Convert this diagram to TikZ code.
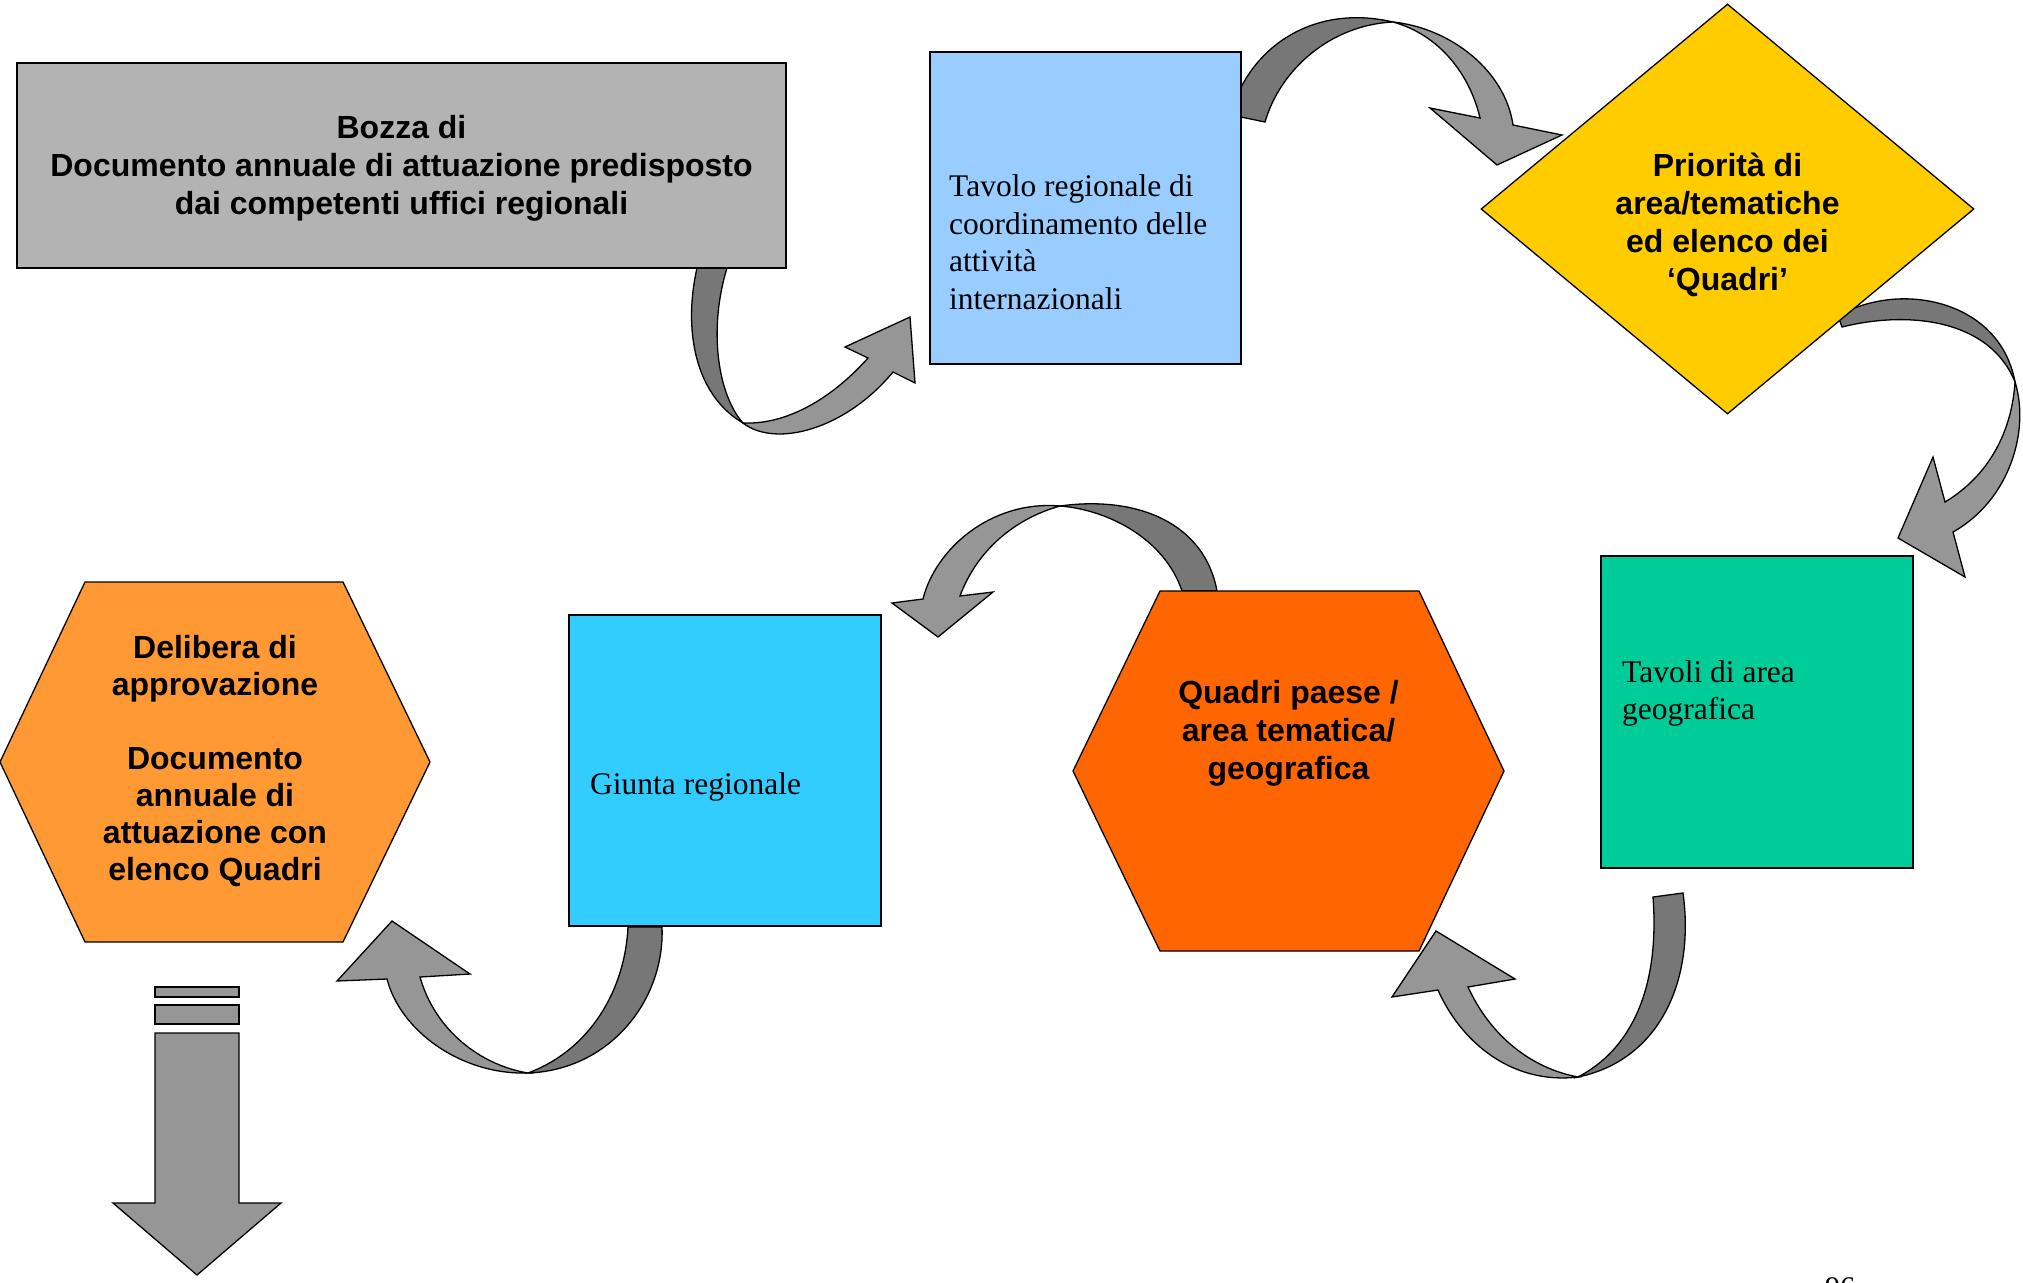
\documentclass[tikz,border=0pt]{standalone}
\usepackage{fontspec}
\setmainfont{Liberation Serif}
\setsansfont{Liberation Sans}
\usetikzlibrary{shapes.geometric}

\definecolor{bozzagray}{HTML}{B3B3B3}
\definecolor{tavoloblue}{HTML}{99CCFF}
\definecolor{prioyellow}{HTML}{FFCC00}
\definecolor{tavoligreen}{HTML}{00CC99}
\definecolor{quadriorange}{HTML}{FF6600}
\definecolor{giuntacyan}{HTML}{33CCFF}
\definecolor{deliberaorange}{HTML}{FF9933}
\definecolor{arrowdark}{HTML}{777777}
\definecolor{arrowlight}{HTML}{969696}

\tikzset{
    box/.style={draw=black, line width=1.3pt, inner sep=0pt},
    boldtext/.style={font=\sffamily\bfseries\fontsize{32}{38}\selectfont, align=center, inner sep=0pt},
    plaintext/.style={font=\rmfamily\fontsize{31.5}{37.5}\selectfont, align=left, inner sep=0pt, anchor=west},
    ribbonback/.style={draw=black, line width=1.3pt, fill=arrowdark},
    ribbonfront/.style={draw=black, line width=1.3pt, fill=arrowlight},
}

\begin{document}
\begin{tikzpicture}[x=1pt, y=-1pt]
        \useasboundingbox (0,0) rectangle (2023,1282);

        % curved arrows first, the boxes cover their tails
        \filldraw[ribbonback] (697,268) .. controls (683,330) and (695,395) .. (743,423)
            .. controls (718,395) and (708,330) .. (727,268) -- cycle;
        \filldraw[ribbonfront] (743,423) .. controls (775,448) and (845,430) .. (893,372)
            -- (915,383) -- (910,317) -- (845,347) -- (868,358)
            .. controls (835,395) and (790,425) .. (743,423) -- cycle;

        \filldraw[ribbonback] (1236,116) -- (1265,122) .. controls (1280,70) and (1330,25) .. (1393,22)
            .. controls (1320,5) and (1260,40) .. (1236,98) -- cycle;
        \filldraw[ribbonfront] (1393,22) .. controls (1450,28) and (1505,70) .. (1513,125)
            -- (1562,135) -- (1497,165) -- (1430,108) -- (1480,118)
            .. controls (1470,75) and (1440,35) .. (1393,22) -- cycle;

        \filldraw[ribbonback] (1842,327) -- (1838,316) .. controls (1900,280) and (2000,300) .. (2015,382)
            .. controls (1990,320) and (1910,310) .. (1842,327) -- cycle;
        \filldraw[ribbonfront] (2015,382) .. controls (2030,430) and (2010,500) .. (1953,532)
            -- (1965,577) -- (1898,538) -- (1933,457) -- (1945,502)
            .. controls (1990,475) and (2012,430) .. (2015,382) -- cycle;

        \filldraw[ribbonback] (1653,897) -- (1683,893) .. controls (1695,980) and (1660,1060) .. (1578,1077)
            .. controls (1630,1050) and (1660,990) .. (1653,897) -- cycle;
        \filldraw[ribbonfront] (1578,1077) .. controls (1510,1085) and (1460,1040) .. (1438,990)
            -- (1392,997) -- (1436,931) -- (1515,979) -- (1468,987)
            .. controls (1490,1035) and (1530,1068) .. (1578,1077) -- cycle;

        \filldraw[ribbonback] (1182,591) -- (1217,591) .. controls (1205,525) and (1140,495) .. (1060,506)
            .. controls (1110,510) and (1165,540) .. (1182,591) -- cycle;
        \filldraw[ribbonfront] (1060,506) .. controls (990,500) and (935,550) .. (923,599)
            -- (892,603) -- (938,637) -- (993,592) -- (960,596)
            .. controls (975,555) and (1010,520) .. (1060,506) -- cycle;

        \filldraw[ribbonback] (628,927) -- (662,927) .. controls (665,1000) and (610,1070) .. (528,1073)
            .. controls (590,1050) and (625,990) .. (628,927) -- cycle;
        \filldraw[ribbonfront] (528,1073) .. controls (460,1075) and (400,1030) .. (387,979)
            -- (337,981) -- (392,921) -- (470,974) -- (420,977)
            .. controls (435,1030) and (480,1065) .. (528,1073) -- cycle;

        % boxes
        \node[box, fill=bozzagray, minimum width=769pt, minimum height=205pt] (bozza) at (401.5,165.5) {};
        \node[boldtext] (bozzatext) at (401.5,168.5)
            {Bozza di\\Documento annuale di attuazione predisposto\\dai competenti uffici regionali};

        \node[box, fill=tavoloblue, minimum width=311pt, minimum height=312pt] (tavolo) at (1085.5,208) {};
        \node[plaintext] (tavolotext) at (949,242) {Tavolo regionale di\\coordinamento delle\\attività\\internazionali};

        \node[box, diamond, fill=prioyellow, minimum width=493pt, minimum height=410pt] (priorita) at (1727.5,209) {};
        \node[boldtext] (prioritatext) at (1727.5,225) {Priorità di\\area/tematiche\\ed elenco dei\\‘Quadri’};

        \node[box, fill=tavoligreen, minimum width=312pt, minimum height=312pt] (tavoli) at (1757,712) {};
        \node[plaintext] (tavolitext) at (1622,693.5) {Tavoli di area\\geografica};

        \filldraw[box, fill=quadriorange] (1073,771) -- (1160,591) -- (1419,591) -- (1504,771)
            -- (1419,951) -- (1160,951) -- cycle;
        \node[boldtext] (quadri) at (1288.5,733) {Quadri paese /\\area tematica/\\geografica};

        \node[box, fill=giuntacyan, minimum width=312pt, minimum height=311pt] (giunta) at (725,770.5) {};
        \node[plaintext] (giuntatext) at (590,787) {Giunta regionale};

        \filldraw[box, fill=deliberaorange] (0,762) -- (85,582) -- (343,582) -- (430,762)
            -- (343,942) -- (85,942) -- cycle;
        \node[boldtext, font=\sffamily\bfseries\fontsize{32}{37}\selectfont] (delibera) at (215,761)
            {Delibera di\\approvazione\\[37pt]Documento\\annuale di\\attuazione con\\elenco Quadri};

        % down arrow
        \filldraw[ribbonfront] (155,987) rectangle (239,997);
        \filldraw[ribbonfront] (155,1005) rectangle (239,1024);
        \filldraw[ribbonfront] (155,1033) -- (239,1033) -- (239,1203) -- (281,1203)
            -- (197,1275) -- (113,1203) -- (155,1203) -- cycle;

        \node[font=\rmfamily\fontsize{30}{36}\selectfont, anchor=base, inner sep=0pt] (pagenum) at (1840,1297) {96};
\end{tikzpicture}
\end{document}
